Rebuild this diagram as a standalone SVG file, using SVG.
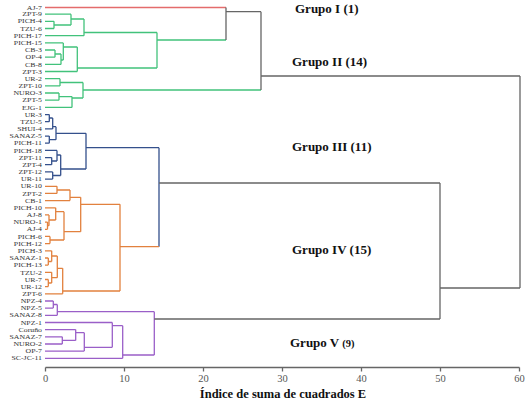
<svg xmlns="http://www.w3.org/2000/svg" width="531" height="408" viewBox="0 0 531 408">
<style>
.lbl{font-family:"Liberation Serif","Times New Roman",serif;font-size:6.4px;fill:#333;text-anchor:end}
.grp{font-family:"Liberation Serif","Times New Roman",serif;font-size:13px;font-weight:bold;fill:#111}
.tick{font-family:"Liberation Serif","Times New Roman",serif;font-size:10.5px;fill:#555;text-anchor:middle}
.ttl{font-family:"Liberation Serif","Times New Roman",serif;font-size:12.5px;font-weight:bold;fill:#111;text-anchor:middle}
path{fill:none;stroke-width:1.3}
.r{stroke:#e46c6c}.g{stroke:#42c27b}.b{stroke:#34508c}.o{stroke:#e2813e}.p{stroke:#9a5fc8}.k{stroke:#666}
</style>
<rect width="531" height="408" fill="#fff"/>
<g id="connectors">
<path class="r" d="M45 7.5H226"/>
<path class="g" d="M45 14.2H71M45 21.3H54M45 28.5H54M54 21.3V28.5M54 25H71M71 14.2V25M71 19H84M45 35.7H84M84 19V35.7M84 32.5H157
M45 42.9H63.3M45 50H55M45 57.2H55M55 50V57.2M55 54H61M45 64.4H61M61 54V64.4M61 60H63.3M63.3 42.9V60M63.3 47H77.3M45 71.5H77.3M77.3 47V71.5M77.3 68H157M157 32.5V68M157 40H226
M45 78.7H60M45 85.9H60M60 78.7V85.9M60 82.5H83M45 93H59M45 100.2H59M59 93V100.2M59 96.6H72M45 107.4H72M72 96.6V107.4M72 98H83M83 82.5V98M83 90H261"/>
<path class="b" d="M45 114.6H49.3M45 121.7H49.3M49.3 114.6V121.7M49.3 118H52.7M45 128.9H52.7M52.7 118V128.9M52.7 126.7H56M45 136.1H49.3M45 143.2H49.3M49.3 136.1V143.2M49.3 139.7H56M56 126.7V139.7M56 133.3H86
M45 150.4H57M45 157.6H51.7M45 164.7H51.7M51.7 157.6V164.7M51.7 161H57M57 150.4V161M57 155H60.7M45 171.9H52.7M45 179.1H52.7M52.7 171.9V179.1M52.7 175.5H60.7M60.7 155V175.5M60.7 169H86M86 133.3V169M86 147.7H159M159 147.7V246.7"/>
<path class="o" d="M45 186.3H57M45 193.4H57M57 186.3V193.4M57 190H70M45 200.6H70M70 190V200.6M70 197.3H80.7
M45 207.8H55.7M45 214.9H49M45 222.1H47.5M45 229.3H47.5M47.5 222.1V229.3M47.5 225.7H49M49 214.9V225.7M49 220H55.7M55.7 207.8V220M55.7 211.7H64
M45 236.4H50M45 243.6H50M50 236.4V243.6M50 240H64M64 211.7V240M64 231.7H80.7M80.7 197.3V231.7M80.7 204.3H120
M45 250.8H51.7M45 258H48.3M45 265.1H48.3M48.3 258V265.1M48.3 261.5H51.7M51.7 250.8V261.5M51.7 256H57.3
M45 272.3H51.7M45 279.5H48.3M45 286.6H48.3M48.3 279.5V286.6M48.3 283H51.7M51.7 272.3V283M51.7 277.7H57.3M57.3 256V277.7M57.3 268.3H62.7
M45 293.8H62.7M62.7 268.3V293.8M62.7 291H120M120 204.3V291M120 246.7H159"/>
<path class="p" d="M45 301H53.3M45 308.1H53.3M53.3 301V308.1M53.3 304.5H57.3M45 315.3H57.3M57.3 304.5V315.3M57.3 311.7H154.3
M45 322.5H112.3M45 329.6H75.7M45 336.8H62.3M45 344H62.3M62.3 336.8V344M62.3 340.4H75.7M75.7 329.6V340.4M75.7 332.7H84.3M45 351.1H84.3M84.3 332.7V351.1M84.3 347.3H112.3M112.3 322.5V347.3M112.3 325.7H122.7M45 358.3H122.7M122.7 325.7V358.3M122.7 355H154.3M154.3 311.7V355"/>
<path class="k" d="M226 7.5V40M226 11.7H261M261 11.7V90M261 76H520M520 76V288M440 288H520M440 183V319M159 183H440M154.3 319H440"/>
</g>
<g id="leaves" transform="scale(1.22,1)">
<g id="n0"><text class="lbl" x="34.4" y="9.7">AJ-7</text></g>
<g id="n1"><text class="lbl" x="34.4" y="16.4">ZPT-9</text></g>
<g id="n2"><text class="lbl" x="34.4" y="23.5">PICH-4</text></g>
<g id="n3"><text class="lbl" x="34.4" y="30.7">TZU-6</text></g>
<g id="n4"><text class="lbl" x="34.4" y="37.9">PICH-17</text></g>
<g id="n5"><text class="lbl" x="34.4" y="45.1">PICH-15</text></g>
<g id="n6"><text class="lbl" x="34.4" y="52.2">CB-3</text></g>
<g id="n7"><text class="lbl" x="34.4" y="59.4">OP-4</text></g>
<g id="n8"><text class="lbl" x="34.4" y="66.6">CB-8</text></g>
<g id="n9"><text class="lbl" x="34.4" y="73.7">ZPT-3</text></g>
<g id="n10"><text class="lbl" x="34.4" y="80.9">UR-2</text></g>
<g id="n11"><text class="lbl" x="34.4" y="88.1">ZPT-10</text></g>
<g id="n12"><text class="lbl" x="34.4" y="95.2">NURO-3</text></g>
<g id="n13"><text class="lbl" x="34.4" y="102.4">ZPT-5</text></g>
<g id="n14"><text class="lbl" x="34.4" y="109.6">EJG-1</text></g>
<g id="n15"><text class="lbl" x="34.4" y="116.8">UR-3</text></g>
<g id="n16"><text class="lbl" x="34.4" y="123.9">TZU-5</text></g>
<g id="n17"><text class="lbl" x="34.4" y="131.1">SHUI-4</text></g>
<g id="n18"><text class="lbl" x="34.4" y="138.3">SANAZ-5</text></g>
<g id="n19"><text class="lbl" x="34.4" y="145.4">PICH-11</text></g>
<g id="n20"><text class="lbl" x="34.4" y="152.6">PICH-18</text></g>
<g id="n21"><text class="lbl" x="34.4" y="159.8">ZPT-11</text></g>
<g id="n22"><text class="lbl" x="34.4" y="166.9">ZPT-4</text></g>
<g id="n23"><text class="lbl" x="34.4" y="174.1">ZPT-12</text></g>
<g id="n24"><text class="lbl" x="34.4" y="181.3">UR-11</text></g>
<g id="n25"><text class="lbl" x="34.4" y="188.5">UR-10</text></g>
<g id="n26"><text class="lbl" x="34.4" y="195.6">ZPT-2</text></g>
<g id="n27"><text class="lbl" x="34.4" y="202.8">CB-1</text></g>
<g id="n28"><text class="lbl" x="34.4" y="210">PICH-10</text></g>
<g id="n29"><text class="lbl" x="34.4" y="217.1">AJ-8</text></g>
<g id="n30"><text class="lbl" x="34.4" y="224.3">NURO-1</text></g>
<g id="n31"><text class="lbl" x="34.4" y="231.5">AJ-4</text></g>
<g id="n32"><text class="lbl" x="34.4" y="238.6">PICH-6</text></g>
<g id="n33"><text class="lbl" x="34.4" y="245.8">PICH-12</text></g>
<g id="n34"><text class="lbl" x="34.4" y="253">PICH-3</text></g>
<g id="n35"><text class="lbl" x="34.4" y="260.2">SANAZ-1</text></g>
<g id="n36"><text class="lbl" x="34.4" y="267.3">PICH-13</text></g>
<g id="n37"><text class="lbl" x="34.4" y="274.5">TZU-2</text></g>
<g id="n38"><text class="lbl" x="34.4" y="281.7">UR-7</text></g>
<g id="n39"><text class="lbl" x="34.4" y="288.8">UR-12</text></g>
<g id="n40"><text class="lbl" x="34.4" y="296">ZPT-6</text></g>
<g id="n41"><text class="lbl" x="34.4" y="303.2">NPZ-4</text></g>
<g id="n42"><text class="lbl" x="34.4" y="310.3">NPZ-5</text></g>
<g id="n43"><text class="lbl" x="34.4" y="317.5">SANAZ-8</text></g>
<g id="n44"><text class="lbl" x="34.4" y="324.7">NPZ-1</text></g>
<g id="n45"><text class="lbl" x="34.4" y="331.8">Coruño</text></g>
<g id="n46"><text class="lbl" x="34.4" y="339">SANAZ-7</text></g>
<g id="n47"><text class="lbl" x="34.4" y="346.2">NURO-2</text></g>
<g id="n48"><text class="lbl" x="34.4" y="353.3">OP-7</text></g>
<g id="n49"><text class="lbl" x="34.4" y="360.5">SC-JC-11</text></g>
</g>
<g id="group-labels">
<text class="grp" x="295" y="13">Grupo I (1)</text>
<text class="grp" x="292" y="66">Grupo II (14)</text>
<text class="grp" x="292" y="151">Grupo III (11)</text>
<text class="grp" x="292" y="254">Grupo IV (15)</text>
<text class="grp" x="290" y="347">Grupo V <tspan font-size="10.5px">(9)</tspan></text>
</g>
<g id="axis">
<path class="k" d="M45.5 367.5H519.5M45.5 367.5V371.5M124.5 367.5V371.5M203.5 367.5V371.5M282.5 367.5V371.5M361.5 367.5V371.5M440.5 367.5V371.5M519.5 367.5V371.5" stroke-width="1"/>
<text class="tick" x="45.5" y="382">0</text>
<text class="tick" x="124.5" y="382">10</text>
<text class="tick" x="203.5" y="382">20</text>
<text class="tick" x="282.5" y="382">30</text>
<text class="tick" x="361.5" y="382">40</text>
<text class="tick" x="440.5" y="382">50</text>
<text class="tick" x="519.5" y="382">60</text>
<text class="ttl" x="283" y="398">Índice de suma de cuadrados E</text>
</g>
</svg>
